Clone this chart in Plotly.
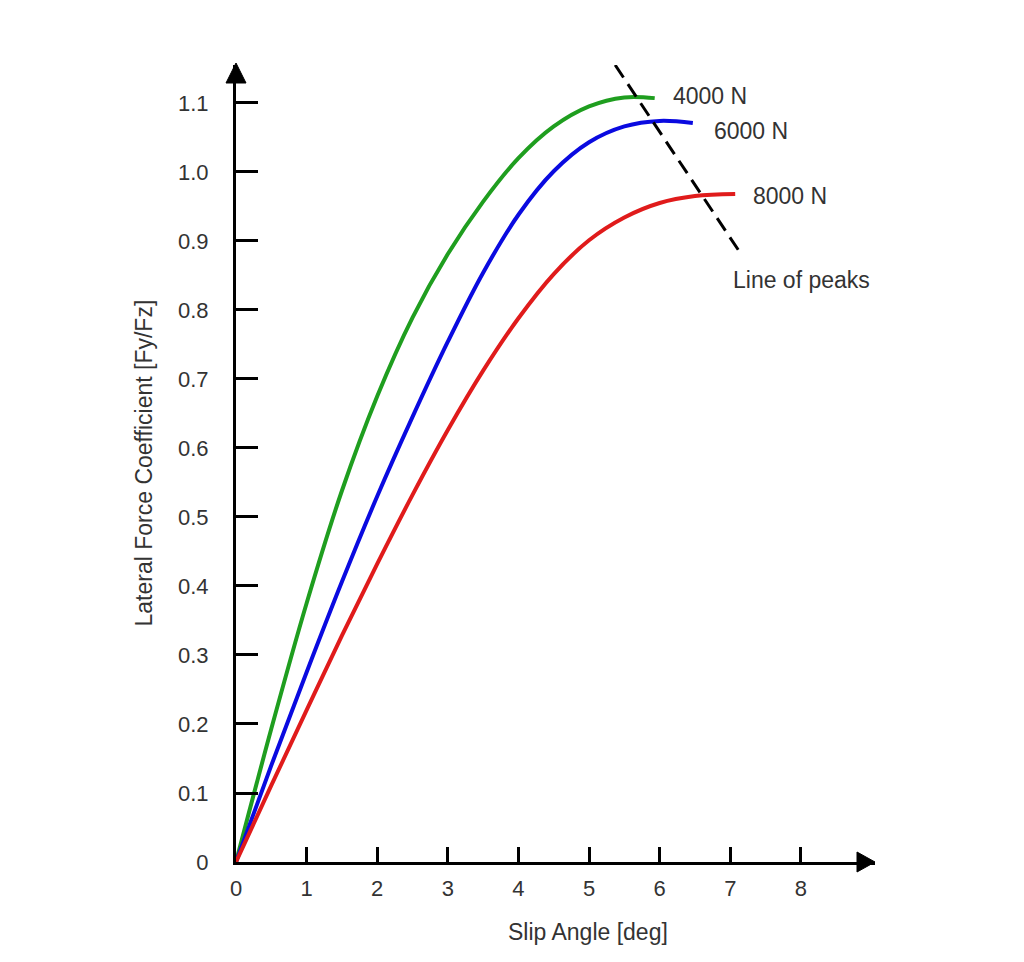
import plotly.graph_objects as go

# ---- data ----
x_4000 = [0, 0.5, 1.0, 1.5, 2.0, 2.5, 3.0, 3.5, 4.0, 4.5, 5.0, 5.5, 5.93]
y_4000 = [0, 0.193, 0.375, 0.538, 0.675, 0.789, 0.881, 0.957, 1.020, 1.066, 1.095, 1.108, 1.107]

x_6000 = [0, 0.5, 1.0, 1.5, 2.0, 2.5, 3.0, 3.5, 4.0, 4.5, 5.0, 5.5, 6.0, 6.47]
y_6000 = [0, 0.140, 0.275, 0.406, 0.530, 0.645, 0.754, 0.854, 0.938, 1.001, 1.043, 1.066, 1.074, 1.071]

x_8000 = [0, 0.5, 1.0, 1.5, 2.0, 2.5, 3.0, 3.5, 4.0, 4.5, 5.0, 5.5, 6.0, 6.5, 7.07]
y_8000 = [0, 0.111, 0.220, 0.328, 0.432, 0.532, 0.626, 0.712, 0.788, 0.852, 0.901, 0.934, 0.955, 0.965, 0.968]

peaks_x = [5.37, 7.14]
peaks_y = [1.155, 0.883]

series_names = ["4000 N", "6000 N", "8000 N"]
label_x = [6.16, 6.74, 7.29]
label_y = [1.110, 1.059, 0.965]
peaks_label = "Line of peaks"
peaks_label_pos = [7.01, 0.843]

x_ticks = [0, 1, 2, 3, 4, 5, 6, 7, 8]
y_ticks = [0, 0.1, 0.2, 0.3, 0.4, 0.5, 0.6, 0.7, 0.8, 0.9, 1.0, 1.1]
y_tick_text = ["0", "0.1", "0.2", "0.3", "0.4", "0.5", "0.6", "0.7", "0.8", "0.9", "1.0", "1.1"]

x_title = "Slip Angle [deg]"
y_title = "Lateral Force Coefficient [Fy/Fz]"

X_MAX = 9.05
Y_MAX = 1.155

FONT = "Liberation Sans, Arial, Helvetica, sans-serif"
TXT = "#333333"

colors = ["#1f9e1f", "#0a0ae0", "#e01b1b"]

fig = go.Figure()
for xs, ys, c, n in zip([x_4000, x_6000, x_8000], [y_4000, y_6000, y_8000], colors, series_names):
    fig.add_trace(go.Scatter(x=xs, y=ys, mode="lines", name=n,
                             line=dict(color=c, width=4, shape="spline", smoothing=1.0),
                             cliponaxis=False, showlegend=False))

fig.add_trace(go.Scatter(x=peaks_x, y=peaks_y, mode="lines",
                         line=dict(color="black", width=3, dash="15px,8px"),
                         cliponaxis=False, showlegend=False))

for n, lx, ly in zip(series_names, label_x, label_y):
    fig.add_annotation(x=lx, y=ly, text=n, showarrow=False, xanchor="left", yanchor="middle",
                       font=dict(size=23, color=TXT, family=FONT))
fig.add_annotation(x=peaks_label_pos[0], y=peaks_label_pos[1], text=peaks_label, showarrow=False,
                   xanchor="left", yanchor="middle", font=dict(size=23, color=TXT, family=FONT))

# axis titles
fig.add_annotation(x=4.98, y=0, yshift=-70, text=x_title, showarrow=False,
                   xanchor="center", yanchor="middle", font=dict(size=23, color=TXT, family=FONT))
fig.add_annotation(xref="paper", yref="paper", x=0, y=0.5, xshift=-93, text=y_title, textangle=-90,
                   showarrow=False, xanchor="center", yanchor="middle",
                   font=dict(size=23, color=TXT, family=FONT))

# arrowheads (paper refs so they are not clipped)
fig.add_shape(type="path", xref="paper", yref="paper", xsizemode="pixel", ysizemode="pixel",
              xanchor=0, yanchor=1, path="M -10 -18 L 0 2 L 10 -18 Z",
              fillcolor="black", line=dict(color="black", width=1))
fig.add_shape(type="path", xref="paper", yref="paper", xsizemode="pixel", ysizemode="pixel",
              xanchor=1, yanchor=0, path="M -18 -10 L 0 0 L -18 10 Z",
              fillcolor="black", line=dict(color="black", width=1))

fig.update_xaxes(range=[0, X_MAX], tickvals=x_ticks, ticktext=[str(v) for v in x_ticks],
                 showline=True, linecolor="black", linewidth=3, ticks="inside", ticklen=15,
                 tickwidth=3, tickcolor="black", showgrid=False, zeroline=False,
                 tickfont=dict(size=22, color=TXT, family=FONT), ticklabelstandoff=5)
fig.update_yaxes(range=[0, Y_MAX], tickvals=y_ticks, ticktext=y_tick_text,
                 showline=True, linecolor="black", linewidth=3, ticks="inside", ticklen=22,
                 tickwidth=3, tickcolor="black", showgrid=False, zeroline=False,
                 tickfont=dict(size=22, color=TXT, family=FONT), ticklabelstandoff=20)

fig.update_layout(width=1008, height=946, margin=dict(l=228, r=141, t=57, b=92),
                  plot_bgcolor="white", paper_bgcolor="white")

fig.write_html("out.html")
